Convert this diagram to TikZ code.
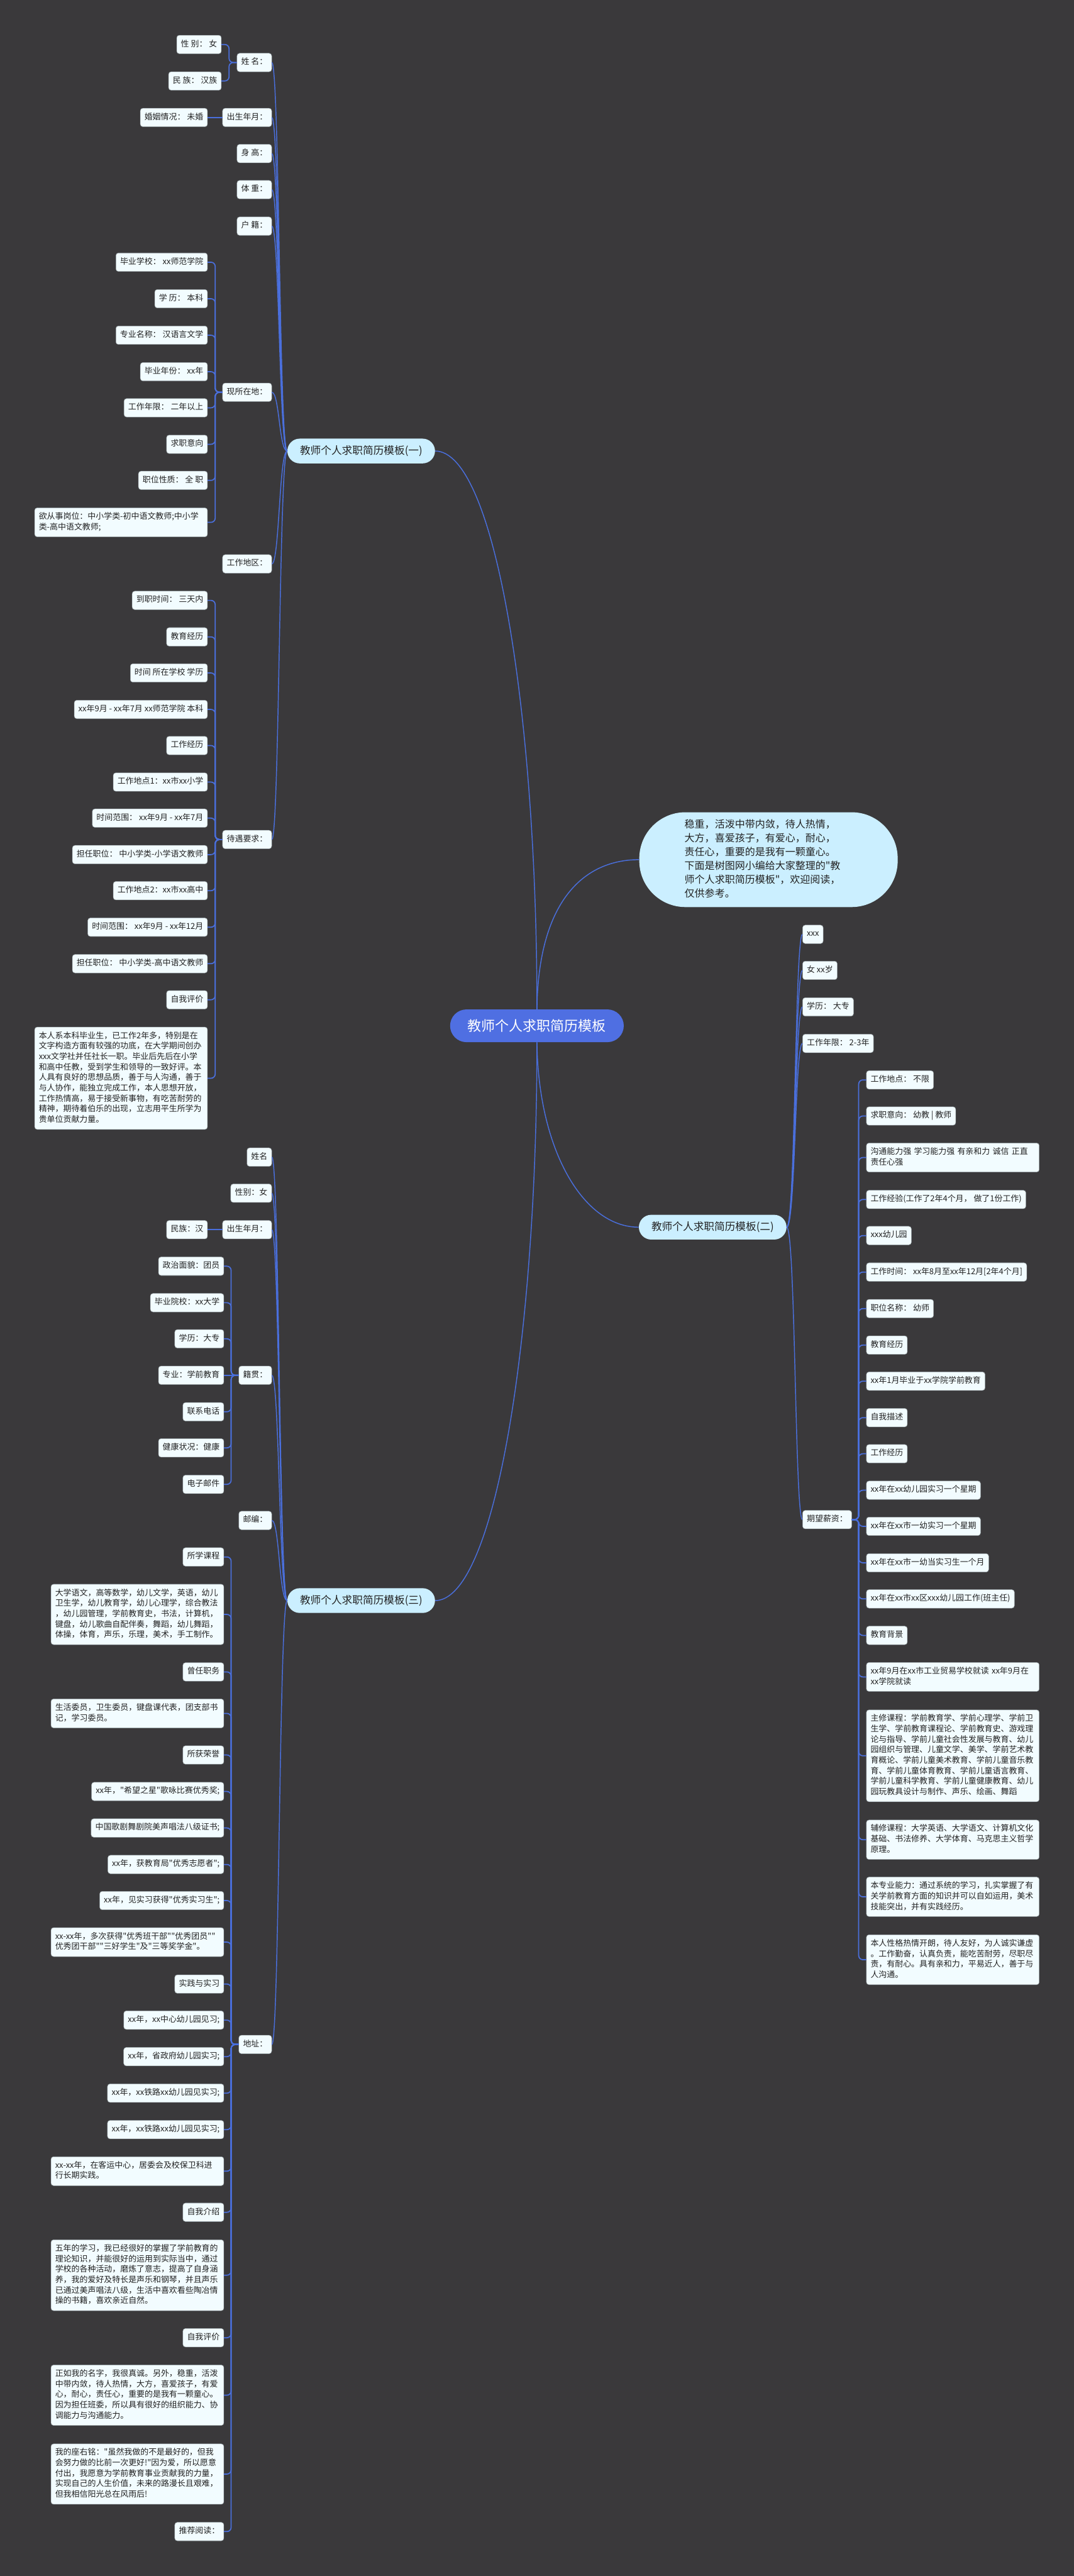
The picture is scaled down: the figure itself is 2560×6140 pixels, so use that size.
\documentclass[tikz,border=0pt]{standalone}
\usepackage{fontspec}
\newfontfamily\cjk{Noto Sans CJK SC}
\usetikzlibrary{calc}
\definecolor{bgc}{HTML}{3A393B}
\definecolor{lnc}{HTML}{4A6FDC}
\definecolor{leaffill}{HTML}{F2FCFF}
\definecolor{leafdraw}{HTML}{9AA4A8}
\definecolor{brfill}{HTML}{CBEFFF}
\definecolor{cfill}{HTML}{4F6FE2}
\definecolor{txc}{HTML}{222222}
\newcommand\leaffont{\cjk\fontsize{9.7pt}{12.5pt}\selectfont}
\tikzset{
  leaf/.style={draw=leafdraw, line width=0.4pt, fill=leaffill, rounded corners=3pt,
    text=txc, font=\leaffont, inner xsep=5pt, inner ysep=4.75pt,
    execute at begin node=\strut, execute at end node=\strut},
  leafL/.style={leaf, anchor=east},
  leafR/.style={leaf, anchor=west},
  para/.style={text width=196pt, align=left},
  brnode/.style={fill=brfill, rounded corners=14.75pt, minimum width=176pt,
    minimum height=29.5pt, inner sep=0pt, text=txc,
    font=\cjk\fontsize{12.5pt}{15pt}\selectfont},
  central/.style={fill=cfill, text=white, rounded corners=19.5pt, minimum width=207pt,
    minimum height=39pt, inner sep=0pt, font=\cjk\fontsize{16.5pt}{20pt}\selectfont},
  bubble/.style={fill=brfill, rounded corners=55pt, text width=200pt, align=left,
    inner xsep=54pt, inner ysep=7pt, text=txc,
    font=\cjk\fontsize{12pt}{16.5pt}\selectfont,
    execute at begin node=\strut, execute at end node=\strut},
  lnA/.style={draw=lnc, line width=1.1pt},
  lnB/.style={draw=lnc, line width=1.1pt},
  lnC/.style={draw=lnc, line width=1.3pt, rounded corners=5pt},
}
\begin{document}
\begin{tikzpicture}[x=0.5pt,y=-0.5pt]
\useasboundingbox (0,0) rectangle (2560,6140);
\fill[bgc] (0,0) rectangle (2560,6140);

% main nodes
\node[central] (c) at (1280,2445) {教师个人求职简历模板};
\node[brnode] (b1) at (861,1075) {教师个人求职简历模板(一)};
\node[brnode] (b2) at (1699,2925) {教师个人求职简历模板(二)};
\node[brnode] (b3) at (861,3815) {教师个人求职简历模板(三)};
\node[bubble] (bub) at (1832,2049) {稳重，活泼中带内敛，待人热情，\\大方，喜爱孩子，有爱心，耐心，\\责任心，重要的是我有一颗童心。\\下面是树图网小编给大家整理的"教\\师个人求职简历模板"，欢迎阅读，\\仅供参考。};

% ---------- branch (一) ----------
\node[leafL] (a1) at (648,149) {姓 名：};
\node[leafL] (a2) at (648,280) {出生年月：};
\node[leafL] (a3) at (648,366) {身 高：};
\node[leafL] (a4) at (648,452) {体 重：};
\node[leafL] (a5) at (648,539) {户 籍：};
\node[leafL] (a6) at (648,935) {现所在地：};
\node[leafL] (a7) at (648,1344) {工作地区：};
\node[leafL] (a8) at (648,2001) {待遇要求：};

\node[leafL] (a1a) at (528,106) {性 别： 女};
\node[leafL] (a1b) at (528,193) {民 族： 汉族};
\node[leafL] (a2a) at (495,280) {婚姻情况： 未婚};

\node[leafL] (f1) at (495,625) {毕业学校： xx师范学院};
\node[leafL] (f2) at (495,712) {学 历： 本科};
\node[leafL] (f3) at (495,799) {专业名称： 汉语言文学};
\node[leafL] (f4) at (495,886) {毕业年份： xx年};
\node[leafL] (f5) at (495,972) {工作年限： 二年以上};
\node[leafL] (f6) at (495,1059) {求职意向};
\node[leafL] (f7) at (495,1145) {职位性质： 全 职};
\node[leafL,para] (f8) at (495,1245) {欲从事岗位：中小学类-初中语文教师;中小学\\类-高中语文教师;};

\node[leafL] (h1) at (495,1431) {到职时间： 三天内};
\node[leafL] (h2) at (495,1518) {教育经历};
\node[leafL] (h3) at (495,1604) {时间 所在学校 学历};
\node[leafL] (h4) at (495,1691) {xx年9月 - xx年7月 xx师范学院 本科};
\node[leafL] (h5) at (495,1777) {工作经历};
\node[leafL] (h6) at (495,1864) {工作地点1：xx市xx小学};
\node[leafL] (h7) at (495,1950) {时间范围： xx年9月 - xx年7月};
\node[leafL] (h8) at (495,2037) {担任职位： 中小学类-小学语文教师};
\node[leafL] (h9) at (495,2123) {工作地点2：xx市xx高中};
\node[leafL] (h10) at (495,2210) {时间范围： xx年9月 - xx年12月};
\node[leafL] (h11) at (495,2297) {担任职位： 中小学类-高中语文教师};
\node[leafL] (h12) at (495,2383) {自我评价};
\node[leafL,para] (h13) at (495,2570) {本人系本科毕业生，已工作2年多，特别是在\\文字构造方面有较强的功底，在大学期间创办\\xxx文学社并任社长一职。毕业后先后在小学\\和高中任教，受到学生和领导的一致好评。本\\人具有良好的思想品质，善于与人沟通，善于\\与人协作，能独立完成工作，本人思想开放，\\工作热情高，易于接受新事物，有吃苦耐劳的\\精神，期待着伯乐的出现，立志用平生所学为\\贵单位贡献力量。};

% ---------- branch (三) ----------
\node[leafL] (c1) at (648,2758) {姓名};
\node[leafL] (c2) at (648,2844) {性别：女};
\node[leafL] (c3) at (648,2931) {出生年月：};
\node[leafL] (c4) at (648,3278) {籍贯：};
\node[leafL] (c5) at (648,3624) {邮编：};
\node[leafL] (c6) at (648,4873) {地址：};

\node[leafL] (c3a) at (495,2931) {民族：汉};

\node[leafL] (k1) at (534,3018) {政治面貌：团员};
\node[leafL] (k2) at (534,3105) {毕业院校：xx大学};
\node[leafL] (k3) at (534,3191) {学历：大专};
\node[leafL] (k4) at (534,3278) {专业：学前教育};
\node[leafL] (k5) at (534,3365) {联系电话};
\node[leafL] (k6) at (534,3451) {健康状况：健康};
\node[leafL] (k7) at (534,3538) {电子邮件};

\node[leafL] (g1) at (534,3711) {所学课程};
\node[leafL,para] (g2) at (534,3848) {大学语文，高等数学，幼儿文学，英语，幼儿\\卫生学，幼儿教育学，幼儿心理学，综合教法\\，幼儿园管理，学前教育史，书法，计算机，\\键盘，幼儿歌曲自配伴奏，舞蹈，幼儿舞蹈，\\体操，体育，声乐，乐理，美术，手工制作。};
\node[leafL] (g3) at (534,3985) {曾任职务};
\node[leafL,para] (g4) at (534,4084) {生活委员，卫生委员，键盘课代表，团支部书\\记，学习委员。};
\node[leafL] (g5) at (534,4183) {所获荣誉};
\node[leafL] (g6) at (534,4270) {xx年，"希望之星"歌咏比赛优秀奖;};
\node[leafL] (g7) at (534,4357) {中国歌剧舞剧院美声唱法八级证书;};
\node[leafL] (g8) at (534,4444) {xx年，获教育局"优秀志愿者";};
\node[leafL] (g9) at (534,4530) {xx年，见实习获得"优秀实习生";};
\node[leafL,para] (g10) at (534,4629) {xx-xx年，多次获得"优秀班干部""优秀团员""\\优秀团干部""三好学生"及"三等奖学金"。};
\node[leafL] (g11) at (534,4729) {实践与实习};
\node[leafL] (g12) at (534,4815) {xx年，xx中心幼儿园见习;};
\node[leafL] (g13) at (534,4902) {xx年，省政府幼儿园实习;};
\node[leafL] (g14) at (534,4989) {xx年，xx铁路xx幼儿园见实习;};
\node[leafL] (g15) at (534,5076) {xx年，xx铁路xx幼儿园见实习;};
\node[leafL,para] (g16) at (534,5175) {xx-xx年，在客运中心，居委会及校保卫科进\\行长期实践。};
\node[leafL] (g17) at (534,5273) {自我介绍};
\node[leafL,para] (g18) at (534,5423) {五年的学习，我已经很好的掌握了学前教育的\\理论知识，并能很好的运用到实际当中，通过\\学校的各种活动，磨炼了意志，提高了自身涵\\养，我的爱好及特长是声乐和钢琴，并且声乐\\已通过美声唱法八级，生活中喜欢看些陶冶情\\操的书籍，喜欢亲近自然。};
\node[leafL] (g19) at (534,5572) {自我评价};
\node[leafL,para] (g20) at (534,5709) {正如我的名字，我很真诚。另外，稳重，活泼\\中带内敛，待人热情，大方，喜爱孩子，有爱\\心，耐心，责任心，重要的是我有一颗童心。\\因为担任班委，所以具有很好的组织能力、协\\调能力与沟通能力。};
\node[leafL,para] (g21) at (534,5897) {我的座右铭："虽然我做的不是最好的，但我\\会努力做的比前一次更好!"因为爱，所以愿意\\付出，我愿意为学前教育事业贡献我的力量，\\实现自己的人生价值，未来的路漫长且艰难，\\但我相信阳光总在风雨后!};
\node[leafL] (g22) at (534,6034) {推荐阅读：};

% ---------- branch (二) ----------
\node[leafR] (d1) at (1913,2227) {xxx};
\node[leafR] (d2) at (1913,2313) {女 xx岁};
\node[leafR] (d3) at (1913,2400) {学历： 大专};
\node[leafR] (d4) at (1913,2487) {工作年限： 2-3年};
\node[leafR] (d5) at (1913,3622) {期望薪资：};

\node[leafR] (e1) at (2065,2574) {工作地点： 不限};
\node[leafR] (e2) at (2065,2660) {求职意向： 幼教 | 教师};
\node[leafR,para] (e3) at (2065,2759) {沟通能力强 学习能力强 有亲和力 诚信 正直\\责任心强};
\node[leafR] (e4) at (2065,2859) {工作经验(工作了2年4个月， 做了1份工作)};
\node[leafR] (e5) at (2065,2945) {xxx幼儿园};
\node[leafR] (e6) at (2065,3032) {工作时间： xx年8月至xx年12月[2年4个月]};
\node[leafR] (e7) at (2065,3119) {职位名称： 幼师};
\node[leafR] (e8) at (2065,3206) {教育经历};
\node[leafR] (e9) at (2065,3292) {xx年1月毕业于xx学院学前教育};
\node[leafR] (e10) at (2065,3379) {自我描述};
\node[leafR] (e11) at (2065,3465) {工作经历};
\node[leafR] (e12) at (2065,3552) {xx年在xx幼儿园实习一个星期};
\node[leafR] (e13) at (2065,3638) {xx年在xx市一幼实习一个星期};
\node[leafR] (e14) at (2065,3725) {xx年在xx市一幼当实习生一个月};
\node[leafR] (e15) at (2065,3811) {xx年在xx市xx区xxx幼儿园工作(班主任)};
\node[leafR] (e16) at (2065,3898) {教育背景};
\node[leafR,para] (e17) at (2065,3997) {xx年9月在xx市工业贸易学校就读 xx年9月在\\xx学院就读};
\node[leafR,para] (e18) at (2065,4185) {主修课程：学前教育学、学前心理学、学前卫\\生学、学前教育课程论、学前教育史、游戏理\\论与指导、学前儿童社会性发展与教育、幼儿\\园组织与管理、儿童文学、美学、学前艺术教\\育概论、学前儿童美术教育、学前儿童音乐教\\育、学前儿童体育教育、学前儿童语言教育、\\学前儿童科学教育、学前儿童健康教育、幼儿\\园玩教具设计与制作、声乐、绘画、舞蹈};
\node[leafR,para] (e19) at (2065,4385) {辅修课程：大学英语、大学语文、计算机文化\\基础、书法修养、大学体育、马克思主义哲学\\原理。};
\node[leafR,para] (e20) at (2065,4521) {本专业能力：通过系统的学习，扎实掌握了有\\关学前教育方面的知识并可以自如运用，美术\\技能突出，并有实践经历。};
\node[leafR,para] (e21) at (2065,4671) {本人性格热情开朗，待人友好，为人诚实谦虚\\。工作勤奋，认真负责，能吃苦耐劳，尽职尽\\责，有耐心。具有亲和力，平易近人，善于与\\人沟通。};

% ---------- connectors ----------
\draw[lnA] (b1.east) .. controls (1180,1075) and (1280,1700) .. (c.north);
\draw[lnA] (b3.east) .. controls (1180,3815) and (1280,3190) .. (c.south);
\draw[lnA] (c.north) .. controls (1283,2150) and (1390,2049) .. (bub.west);
\draw[lnA] (c.south) .. controls (1283,2740) and (1390,2925) .. (b2.west);

\foreach \n in {a1,a2,a3,a4,a5,a6,a7,a8}
  \draw[lnB] (\n.east) .. controls +(9pt,0) and +(-9.5pt,0) .. (b1.west);
\foreach \n in {c1,c2,c3,c4,c5,c6}
  \draw[lnB] (\n.east) .. controls +(9pt,0) and +(-9.5pt,0) .. (b3.west);
\foreach \n in {d1,d2,d3,d4,d5}
  \draw[lnB] (b2.east) .. controls +(10.5pt,0) and +(-9pt,0) .. (\n.west);

\foreach \n in {a1a,a1b}
  \draw[lnC] (\n.east) -- ++(9pt,0) |- (a1.west);
\draw[lnC] (a2a.east) -- (a2.west);
\foreach \n in {f1,f2,f3,f4,f5,f6,f7,f8}
  \draw[lnC] (\n.east) -- ++(9pt,0) |- (a6.west);
\foreach \n in {h1,h2,h3,h4,h5,h6,h7,h8,h9,h10,h11,h12,h13}
  \draw[lnC] (\n.east) -- ++(9pt,0) |- (a8.west);
\draw[lnC] (c3a.east) -- (c3.west);
\foreach \n in {k1,k2,k3,k5,k6,k7}
  \draw[lnC] (\n.east) -- ++(8.5pt,0) |- (c4.west);
\draw[lnC] (k4.east) -- (c4.west);
\foreach \n in {g1,g2,g3,g4,g5,g6,g7,g8,g9,g10,g11,g12,g13,g14,g15,g16,g17,g18,g19,g20,g21,g22}
  \draw[lnC] (\n.east) -- ++(8.5pt,0) |- (c6.west);
\foreach \n in {e1,e2,e3,e4,e5,e6,e7,e8,e9,e10,e11,e12,e13,e14,e15,e16,e17,e18,e19,e20,e21}
  \draw[lnC] (\n.west) -- ++(-9pt,0) |- (d5.east);
\end{tikzpicture}
\end{document}
